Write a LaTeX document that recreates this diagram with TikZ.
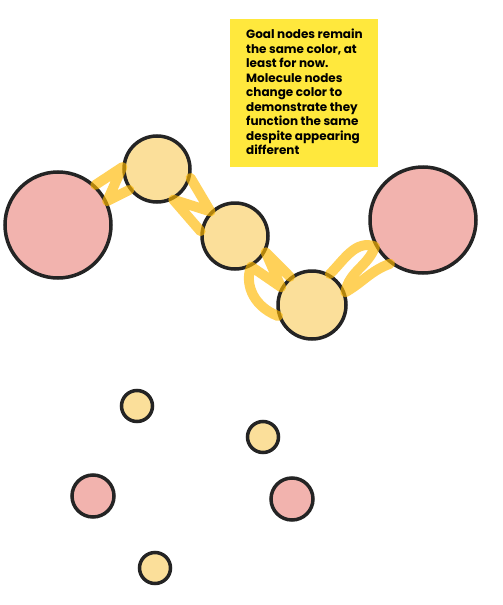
\documentclass[tikz,border=0pt]{standalone}
\usepackage{xcolor}
\usepackage{fontspec}
\setmainfont{Poppins}
\usepackage{tikz}

\definecolor{goalpink}{HTML}{F2B3AE}
\definecolor{molyellow}{HTML}{FBDF9A}
\definecolor{outline}{HTML}{242424}
\definecolor{stickynote}{HTML}{FFE83D}
\definecolor{hilite}{HTML}{FFB800}

\begin{document}
\begin{tikzpicture}[x=1pt, y=-1pt,
  goal/.style={circle, draw=outline, line width=3.5pt, fill=goalpink, inner sep=0pt},
  mol/.style={circle, draw=outline, line width=3.5pt, fill=molyellow, inner sep=0pt},
  bond/.style={draw=hilite, line width=10pt, opacity=0.65, line cap=round, line join=round}]
\useasboundingbox (0,0) rectangle (503,605);

% sticky note
\node[fill=stickynote, minimum width=148pt, minimum height=148pt, anchor=north west] (note) at (230,19) {};
\node[anchor=north west, align=left, inner sep=0pt, font=\bfseries\fontsize{12}{14.5}\selectfont] (notetext) at (246,29)
  {Goal nodes remain\\the same color, at\\least for now.\\Molecule nodes\\change color to\\demonstrate they\\function the same\\despite appearing\\different};

% top chain
\node[goal, minimum size=106pt] (g1) at (58,225) {};
\node[goal, minimum size=106pt] (g2) at (423,220) {};
\node[mol, minimum size=66pt] (m1) at (157,169) {};
\node[mol, minimum size=66pt] (m2) at (235,236) {};
\node[mol, minimum size=68pt] (m3) at (312,305) {};

% bonds
\draw[bond] (g1.47) -- (m1.177) -- (g1.26) -- (m1.217);
\draw[bond] (m1.-15) -- (m2.135) -- (m1.-62) -- (m2.172);
\draw[bond] (m3.198) .. controls (250,305) and (245,280) .. (m2.-62) -- (m3.150) -- (m2.-28) -- (m3.128);
\draw[bond] (m3.60) to[out=45,in=160] (g2.209) to[out=-110,in=80] (m3.21) to[out=30,in=200] (g2.233);

% loose nodes
\node[mol, minimum size=31pt] (s1) at (137,406) {};
\node[mol, minimum size=31pt] (s2) at (263,437) {};
\node[goal, minimum size=42pt] (s3) at (93,496) {};
\node[goal, minimum size=42pt] (s4) at (292,499) {};
\node[mol, minimum size=31pt] (s5) at (155,568) {};
\end{tikzpicture}
\end{document}
